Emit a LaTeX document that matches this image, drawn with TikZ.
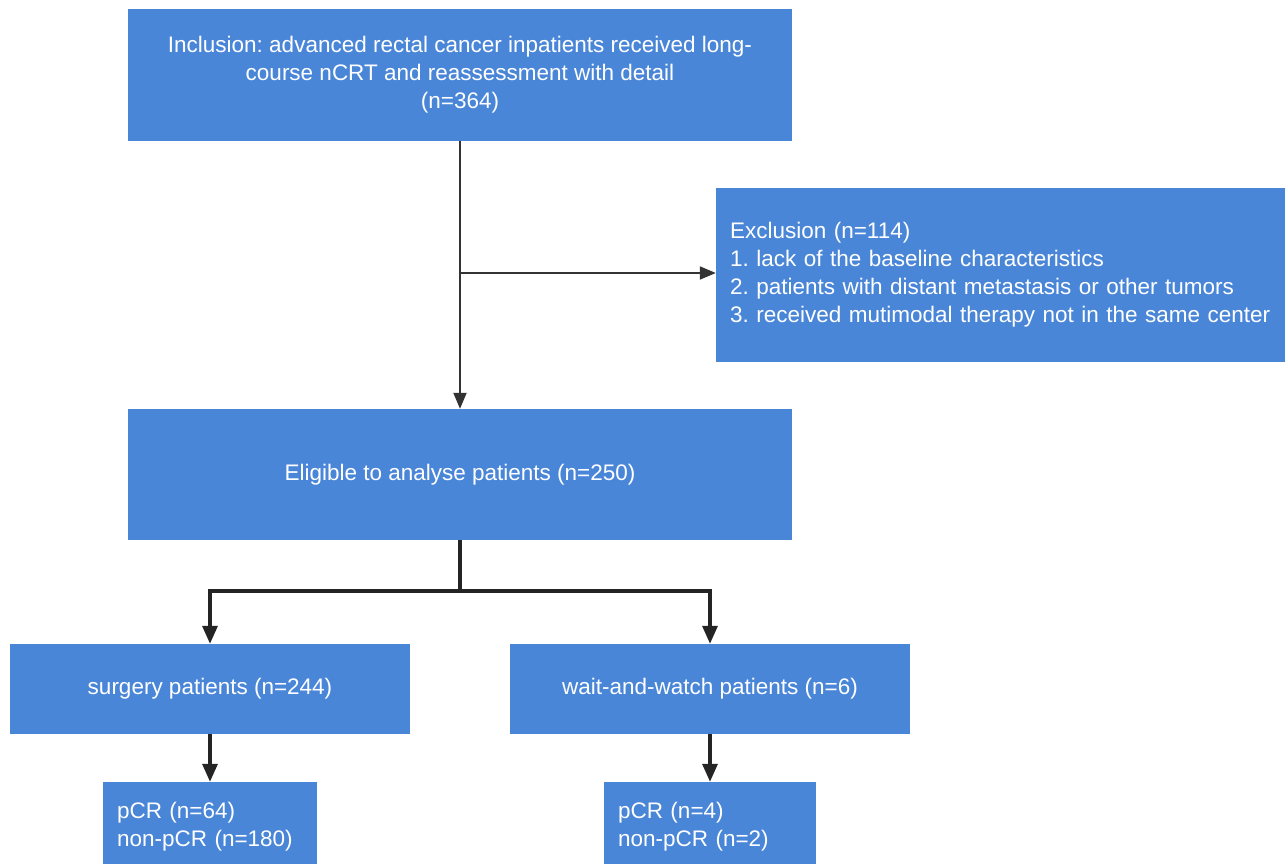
\documentclass[tikz,border=0pt]{standalone}
\usepackage{fontspec}
\setmainfont{Liberation Sans}
\usepackage{tikz}
\usetikzlibrary{calc,positioning,arrows.meta}
\definecolor{boxblue}{HTML}{4A86D8}
\definecolor{linedark}{HTML}{333333}
\frenchspacing
\tikzset{
  flowbox/.style={rectangle, fill=boxblue, draw=none, inner sep=0pt, align=center, text=white, font=\fontsize{22.5}{28}\selectfont},
  listbox/.style={flowbox, align=left, inner xsep=14pt},
  thinarrow/.style={-{Triangle[length=16pt, width=13pt]}, linedark, line width=2pt},
  thickarrow/.style={-{Triangle[length=18pt, width=15pt]}, linedark!70!black, line width=3.2pt}
}
\begin{document}
\begin{tikzpicture}[x=1pt, y=-1pt]
\useasboundingbox (0,0) rectangle (1285,864);

% Top part
\node[flowbox, minimum width=664pt, minimum height=132pt] (incl) at (460, 75) {Inclusion: advanced rectal cancer inpatients received long-\\course nCRT and reassessment with detail\\(n=364)};
\node[listbox, text width=541pt, minimum height=174pt] (excl) at (1000.5, 275) {Exclusion (n=114)\\1. lack of the baseline characteristics\\2. patients with distant metastasis or other tumors\\3. received mutimodal therapy not in the same center};
\node[flowbox, minimum width=664pt, minimum height=131pt] (elig) at (460, 474.5) {Eligible to analyse patients (n=250)};

% Groups
\node[flowbox, minimum width=400pt, minimum height=90pt] (surg) at (210, 689) {surgery patients (n=244)};
\node[flowbox, minimum width=400pt, minimum height=90pt] (wait) at (710, 689) {wait-and-watch patients (n=6)};

% Outcomes
\node[listbox, text width=186pt, minimum height=90pt] (pcrs) at (210, 827) {pCR (n=64)\\non-pCR (n=180)};
\node[listbox, text width=184pt, minimum height=90pt] (pcrw) at (710, 827) {pCR (n=4)\\non-pCR (n=2)};

% Arrows
\coordinate (branch) at (460, 273);
\coordinate (split) at (460, 591);
\draw[thinarrow] (incl.south) -- (elig.north);
\draw[thinarrow] (branch) -- (branch -| excl.west);
\draw[thickarrow] (elig.south) -- (split) -| (surg.north);
\draw[thickarrow] (split) -| (wait.north);
\draw[thickarrow] (surg.south) -- (pcrs.north);
\draw[thickarrow] (wait.south) -- (pcrw.north);

\end{tikzpicture}
\end{document}
